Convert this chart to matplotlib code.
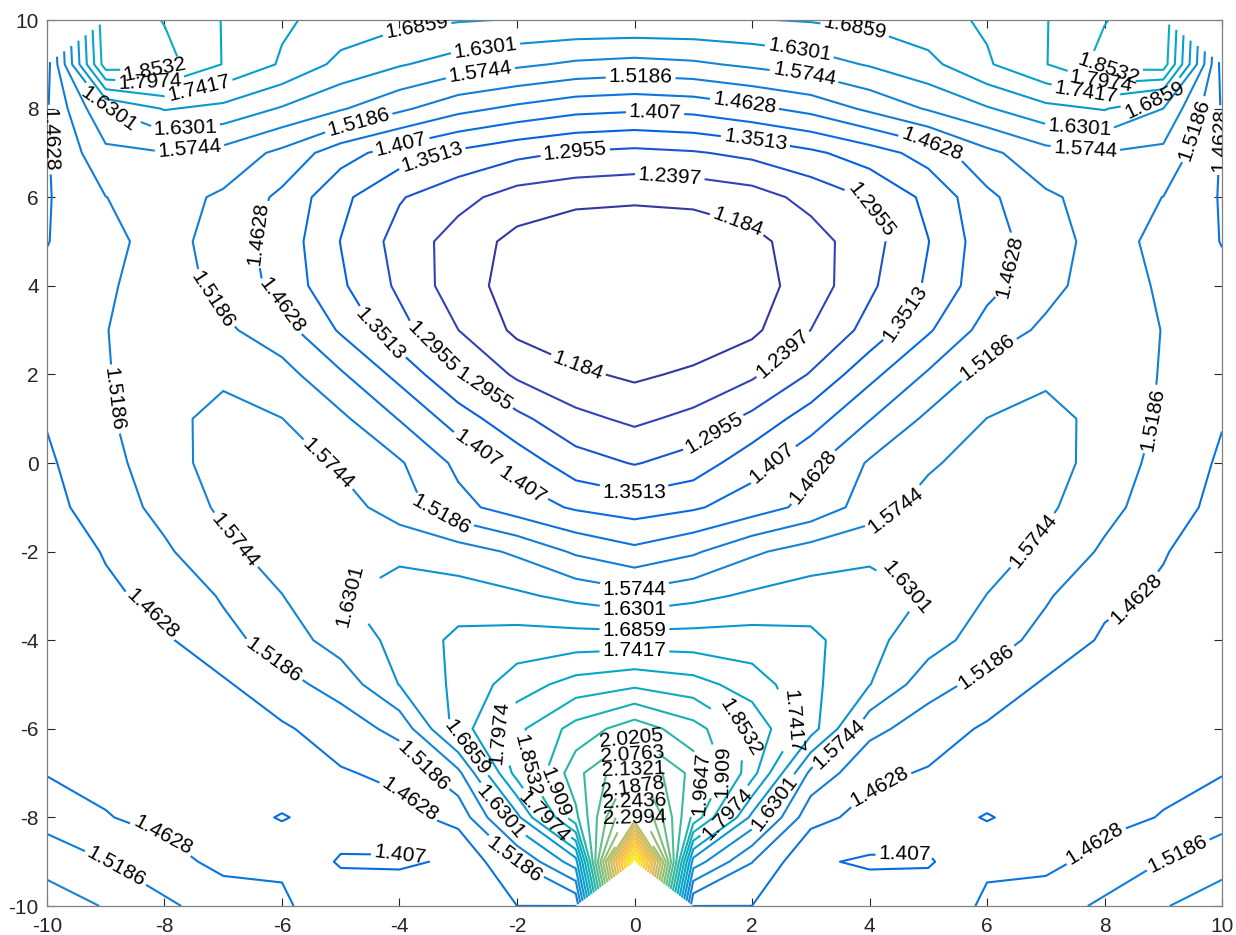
import numpy as np
import matplotlib
matplotlib.use("Agg")
import matplotlib.pyplot as plt
from matplotlib.colors import LinearSegmentedColormap, Normalize

plt.rcParams["font.family"] = ["Liberation Sans", "DejaVu Sans"]
plt.rcParams["axes.unicode_minus"] = False

# grid nodes
x_nodes = np.arange(-10, 11)
y_nodes = np.arange(10, -11, -1)

# field values, one row per y (top to bottom), left half x = -10 ... 0;
# the field is mirror symmetric about x = 0. nan = singular node
row_p10 = [np.nan, 1.90, 1.85, 1.795, 1.75, 1.72, 1.70, 1.69, 1.683, 1.68, 1.68]
row_p9 = [1.44, 1.885, 1.875, 1.795, 1.735, 1.67, 1.635, 1.605, 1.585, 1.565, 1.556]
row_p8 = [1.458, 1.63, 1.69, 1.67, 1.625, 1.58, 1.53, 1.48, 1.45, 1.425, 1.417]
row_p7 = [1.458, 1.56, 1.572, 1.555, 1.505, 1.43, 1.38, 1.34, 1.31, 1.29, 1.281]
row_p6 = [1.458, 1.518, 1.54, 1.51, 1.45, 1.365, 1.30, 1.258, 1.215, 1.20, 1.195]
row_p5 = [1.461, 1.50, 1.545, 1.49, 1.44, 1.35, 1.275, 1.215, 1.168, 1.142, 1.135]
row_p4 = [1.475, 1.51, 1.55, 1.50, 1.445, 1.36, 1.285, 1.21, 1.16, 1.136, 1.128195]
row_p3 = [1.48, 1.517, 1.55, 1.53, 1.485, 1.40, 1.315, 1.24, 1.172, 1.145, 1.14]
row_p2 = [1.475, 1.515, 1.55, 1.565, 1.54, 1.47, 1.39, 1.30, 1.23, 1.194, 1.174]
row_p1 = [1.466, 1.51, 1.56, 1.59, 1.575, 1.53, 1.46, 1.38, 1.31, 1.255, 1.228]
row_0 = [1.455, 1.50, 1.55, 1.60, 1.605, 1.565, 1.525, 1.45, 1.385, 1.32, 1.292]
row_m1 = [1.445, 1.49, 1.535, 1.585, 1.615, 1.60, 1.545, 1.48, 1.435, 1.40, 1.381]
row_m2 = [1.435, 1.466, 1.51, 1.56, 1.60, 1.625, 1.62, 1.60, 1.565, 1.51, 1.477]
row_m3 = [1.43, 1.455, 1.475, 1.525, 1.573, 1.627, 1.65, 1.655, 1.64, 1.615, 1.592]
row_m4 = [1.43, 1.445, 1.455, 1.50, 1.545, 1.60, 1.645, 1.70, 1.71, 1.712, 1.713]
row_m5 = [1.435, 1.44, 1.445, 1.455, 1.50, 1.54, 1.632, 1.70, 1.77, 1.82, 1.842]
row_m6 = [1.44, 1.445, 1.447, 1.45, 1.455, 1.49, 1.535, 1.71, 1.84, 1.93, 1.997]
row_m7 = [1.46, 1.452, 1.45, 1.448, 1.455, 1.458, 1.475, 1.56, 1.82, 2.00, 2.146]
row_m8 = [1.50, 1.465, 1.45, 1.44, 1.402, 1.44, 1.445, 1.48, 1.67, 1.95, 2.30]
row_m9 = [1.55, 1.52, 1.48, 1.45, 1.46, 1.40, 1.40, 1.414, 1.52, 1.66, 2.912835]
row_m10 = [1.61, 1.57, 1.53, 1.49, 1.466, 1.45, 1.44, 1.445, 1.4626, 1.4626, np.nan]

half_rows = [row_p10, row_p9, row_p8, row_p7, row_p6, row_p5, row_p4, row_p3,
             row_p2, row_p1, row_0, row_m1, row_m2, row_m3, row_m4, row_m5,
             row_m6, row_m7, row_m8, row_m9, row_m10]

n_levels = 31

# label anchor points (data units); each label goes on the nearest line
label_x = [-8.16, -8.25, -7.40, -8.93, -7.65, -7.57, -9.95, -6.89, -6.97, -5.86,
           -4.42, -3.57, -2.63, -1.01, -9.01, -2.80, -5.52, -3.23, -1.95, 0.0,
           0.0, 0.0, 0.0, 0.0, -6.89, -5.10, -8.16, -6.20, -2.80, -2.46,
           -1.69, -1.27, -1.52, -3.48, -2.37, -3.91, -3.99, -2.03, -8.08, -8.93,
           0.0, 0.0, 0.0, 0.0, 0.0, 0.0,
           -3.70, -2.54, -2.63, 0.10, 1.88, 0.35, 2.08, -1.01, 0.60, 1.71,
           2.82, 2.90, 3.75, 8.06, 7.92, 7.67, 8.86, 7.58, 7.67, 9.54,
           9.90, 5.03, 4.01, 6.22, 4.52, 2.39, 5.97, 8.86, 1.42, 2.22,
           2.82, 4.26, 6.56, 4.86, 8.43, 6.14, 2.73, 1.88, 3.50, 1.59,
           1.20, 1.54, 2.31, 4.26, 4.60, 7.92, 9.37, -4.70, -4.00, -3.46]
label_y = [8.80, 8.47, 8.35, 8.08, 7.56, 7.02, 7.30, 5.37, 3.91, 3.68,
           2.78, 2.44, 1.54, 1.99, 1.42, 0.07, -0.50, -0.95, -0.61, -0.61,
           -2.91, -3.36, -3.77, -4.27, -1.85, -2.42, -3.32, -4.56, -6.37, -6.14,
           -6.82, -7.38, -7.95, -6.70, -7.95, -7.72, -8.85, -8.92, -8.58, -9.35,
           -6.32, -6.64, -6.93, -7.34, -7.65, -8.01,
           9.75, 9.39, 8.87, 8.60, 8.19, 7.90, 7.45, 7.02, 6.43, 5.21,
           9.44, 8.87, 9.77, 8.80, 8.53, 8.31, 8.19, 7.56, 7.02, 7.52,
           7.29, 7.07, 5.71, 4.47, 3.45, 2.66, 2.44, 0.97, 0.52, 0.18,
           -0.16, -0.61, -1.51, -2.30, -2.87, -4.90, -5.80, -5.80, -6.37, -6.93,
           -7.27, -7.88, -7.61, -7.61, -8.96, -8.74, -9.19, 7.70, 7.34, 6.95]

# parula-like colour map
parula_rgb = [
    (0.2081, 0.1663, 0.5292), (0.1959, 0.2645, 0.7279), (0.0117, 0.3875, 0.8820),
    (0.0498, 0.4586, 0.8641), (0.0793, 0.5200, 0.8312), (0.0343, 0.5966, 0.8199),
    (0.0228, 0.6535, 0.7768), (0.0843, 0.6928, 0.7062), (0.2178, 0.7250, 0.6193),
    (0.3953, 0.7459, 0.5244), (0.5709, 0.7485, 0.4494), (0.7184, 0.7411, 0.3905),
    (0.8507, 0.7299, 0.3360), (0.9739, 0.7314, 0.2666), (0.9880, 0.8066, 0.1794),
    (0.9589, 0.8949, 0.1132), (0.9763, 0.9831, 0.0538),
]
parula = LinearSegmentedColormap.from_list("parula", parula_rgb)

# build the full grid by mirroring each half row
Z = np.array([r + r[-2::-1] for r in half_rows])
Zm = np.ma.masked_invalid(Z)
X, Y = np.meshgrid(x_nodes, y_nodes)

zmin, zmax = Zm.min(), Zm.max()
levels = np.linspace(zmin, zmax, n_levels + 2)[1:-1]

fig = plt.figure(figsize=(12.36, 9.35), dpi=100)
ax = fig.add_axes([0.038, 0.031, 0.9507, 0.9476])

cs = ax.contour(X, Y, Zm, levels=levels, cmap=parula,
                norm=Normalize(vmin=zmin, vmax=zmax),
                linewidths=1.5, corner_mask=True)
ax.clabel(cs, fmt="%.5g", fontsize=15, colors="k", inline=True,
          inline_spacing=3, manual=list(zip(label_x, label_y)))

ax.set_xlim(-10, 10)
ax.set_ylim(-10, 10)
ax.set_xticks(range(-10, 11, 2))
ax.set_yticks(range(-10, 11, 2))
ax.tick_params(direction="in", top=True, right=True, length=6, width=0.8,
               labelsize=15, color="#262626", labelcolor="#262626", pad=6)
ax.tick_params(axis="x", pad=8)
for sp in ax.spines.values():
    sp.set_color("#808080")
    sp.set_linewidth(0.9)

fig.savefig("out.png", dpi=100)
